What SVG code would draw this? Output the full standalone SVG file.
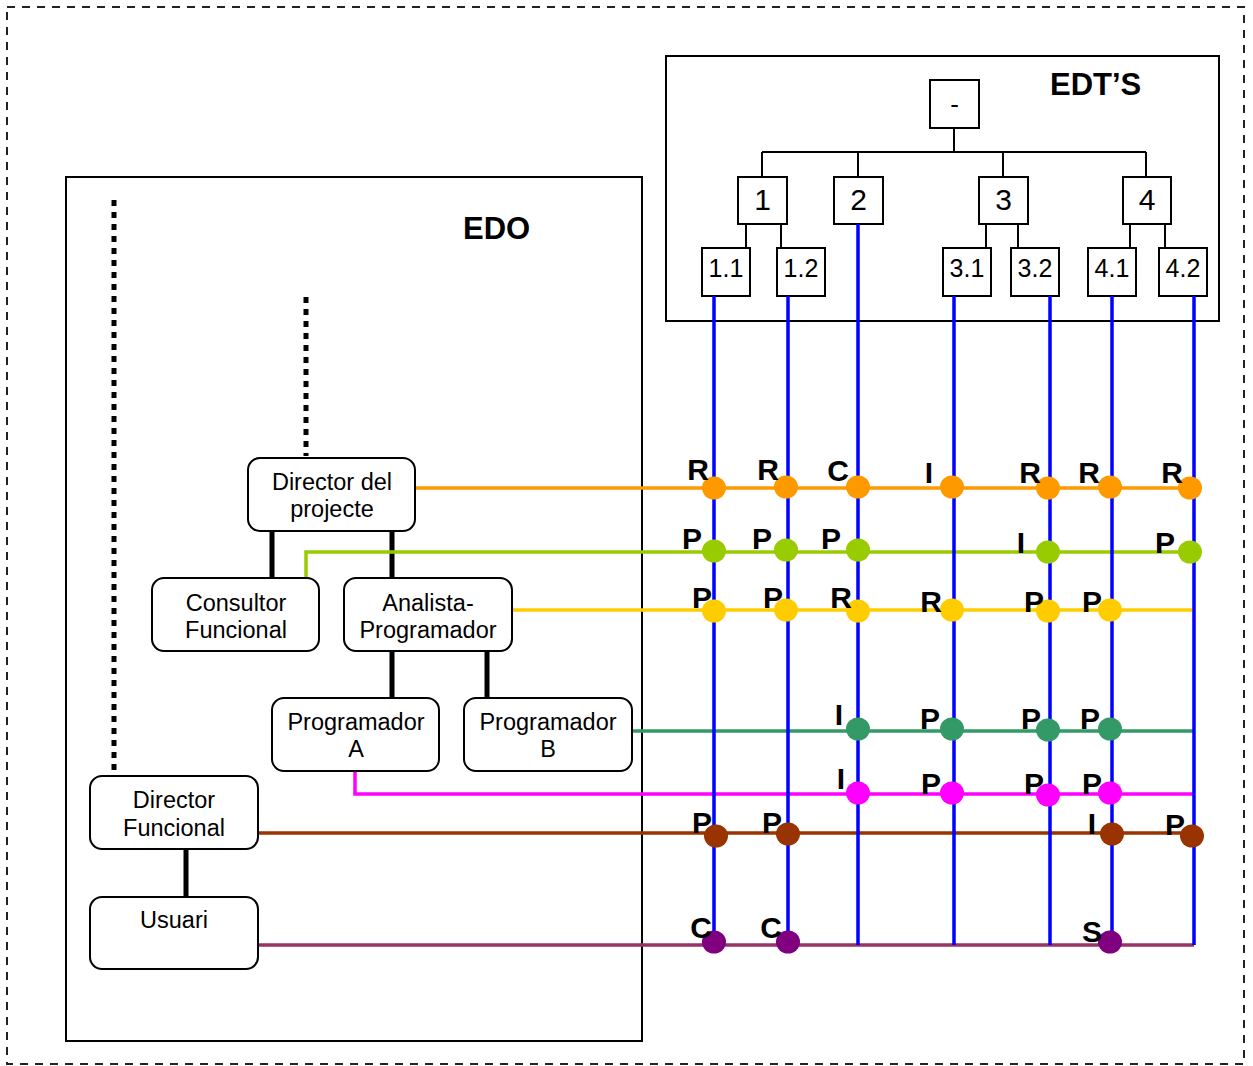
<svg xmlns="http://www.w3.org/2000/svg" width="1253" height="1066" viewBox="0 0 1253 1066">
<style>
.box{fill:#fff;stroke:#000;stroke-width:2}
.node{fill:#fff;stroke:#000;stroke-width:2}
.t{font-family:"Liberation Sans",Arial,sans-serif;fill:#000;text-anchor:middle}
.nt{font-size:23.5px}
.tree{stroke:#000;stroke-width:2;fill:none}
.blue{stroke:#0000FF;stroke-width:3.5;fill:none}
.h{stroke-width:3.5;fill:none}
.thick{stroke:#000;stroke-width:5;fill:none}
.dot{stroke:#000;stroke-width:5;stroke-dasharray:6 6;fill:none}
.lb{font-family:"Liberation Sans",Arial,sans-serif;font-weight:bold;font-size:30px;fill:#000;text-anchor:middle}
.hd{font-family:"Liberation Sans",Arial,sans-serif;font-weight:bold;fill:#000}
</style>
<rect x="0" y="0" width="1253" height="1066" fill="#fff"/>
<rect x="7" y="7" width="1237" height="1057" fill="none" stroke="#222" stroke-width="2" stroke-dasharray="8 7"/>

<g id="EDO">
<rect x="66" y="177" width="576" height="864" fill="none" stroke="#000" stroke-width="2"/>
<text class="hd" x="463" y="239" font-size="31">EDO</text>
</g>

<g id="EDTS">
<rect x="666" y="56" width="553" height="265" fill="none" stroke="#000" stroke-width="2"/>
<text class="hd" x="1050" y="95" font-size="31">EDT’S</text>
</g>

<g id="tree-connectors">
<path class="tree" d="M954,128 V152 M762,152 H1146 M762,152 V177 M858,152 V177 M1003,152 V177 M1146,152 V177"/>
<path class="tree" d="M746,224 V248 M781,224 V248 M986,224 V248 M1018,224 V248 M1130,224 V248 M1165,224 V248"/>
</g>

<g id="wbs-root"><rect class="box" x="930" y="80" width="49" height="48"/><text class="t" x="954.5" y="113" font-size="26">-</text></g>
<g id="wbs-1"><rect class="box" x="738" y="177" width="49" height="47"/><text class="t" x="762.5" y="210" font-size="30">1</text></g>
<g id="wbs-2"><rect class="box" x="834" y="177" width="49" height="47"/><text class="t" x="858.5" y="210" font-size="30">2</text></g>
<g id="wbs-3"><rect class="box" x="979" y="177" width="49" height="47"/><text class="t" x="1003.5" y="210" font-size="30">3</text></g>
<g id="wbs-4"><rect class="box" x="1123" y="177" width="48" height="47"/><text class="t" x="1147" y="210" font-size="30">4</text></g>
<g id="wbs-1-1"><rect class="box" x="702" y="248" width="48" height="48"/><text class="t" x="726" y="277" font-size="25">1.1</text></g>
<g id="wbs-1-2"><rect class="box" x="777" y="248" width="48" height="48"/><text class="t" x="801" y="277" font-size="25">1.2</text></g>
<g id="wbs-3-1"><rect class="box" x="943" y="248" width="48" height="48"/><text class="t" x="967" y="277" font-size="25">3.1</text></g>
<g id="wbs-3-2"><rect class="box" x="1011" y="248" width="48" height="48"/><text class="t" x="1035" y="277" font-size="25">3.2</text></g>
<g id="wbs-4-1"><rect class="box" x="1088" y="248" width="48" height="48"/><text class="t" x="1112" y="277" font-size="25">4.1</text></g>
<g id="wbs-4-2"><rect class="box" x="1159" y="248" width="48" height="48"/><text class="t" x="1183" y="277" font-size="25">4.2</text></g>

<g id="org-connectors">
<path class="dot" d="M114,200 V772"/>
<path class="dot" d="M306,297 V456"/>
<path class="thick" d="M272,531 V578 M392,531 V578 M392,651 V698 M487,651 V698 M186,849 V897"/>
</g>

<g id="matrix-lines">
<path class="h" stroke="#FF9900" d="M415,488 H1194"/>
<path class="h" stroke="#99CC00" d="M306,578 V552 H1192"/>
<path class="h" stroke="#FFCC00" d="M513,610 H1192"/>
<path class="h" stroke="#339966" d="M632,731 H1194"/>
<path class="h" stroke="#FF00FF" d="M355,771 V794 H1194"/>
<path class="h" stroke="#993300" d="M258,833 H1194"/>
<path class="h" stroke="#993366" d="M258,945 H1194"/>
<path class="blue" d="M714,296 V945 M788,296 V945 M858,224 V945 M954,296 V945 M1050,296 V945 M1112,296 V945 M1194,296 V945"/>
</g>

<g id="node-director-projecte"><rect class="node" x="248" y="458" width="167" height="73" rx="12"/><text class="t nt" x="332" y="490">Director del</text><text class="t nt" x="332" y="517">projecte</text></g>
<g id="node-consultor"><rect class="node" x="152" y="578" width="167" height="73" rx="12"/><text class="t nt" x="236" y="611">Consultor</text><text class="t nt" x="236" y="638">Funcional</text></g>
<g id="node-analista"><rect class="node" x="344" y="578" width="168" height="73" rx="12"/><text class="t nt" x="428" y="611">Analista-</text><text class="t nt" x="428" y="638">Programador</text></g>
<g id="node-programador-a"><rect class="node" x="272" y="698" width="167" height="73" rx="12"/><text class="t nt" x="356" y="730">Programador</text><text class="t nt" x="356" y="757">A</text></g>
<g id="node-programador-b"><rect class="node" x="464" y="698" width="168" height="73" rx="12"/><text class="t nt" x="548" y="730">Programador</text><text class="t nt" x="548" y="757">B</text></g>
<g id="node-director-funcional"><rect class="node" x="90" y="776" width="168" height="73" rx="12"/><text class="t nt" x="174" y="808">Director</text><text class="t nt" x="174" y="836">Funcional</text></g>
<g id="node-usuari"><rect class="node" x="90" y="897" width="168" height="72" rx="12"/><text class="t nt" x="174" y="928">Usuari</text></g>

<g id="matrix-dots">
<g fill="#FF9900"><ellipse cx="714" cy="488" rx="12" ry="11.5"/><ellipse cx="786" cy="487" rx="12" ry="11.5"/><ellipse cx="858" cy="487" rx="12" ry="11.5"/><ellipse cx="952" cy="487" rx="12" ry="11.5"/><ellipse cx="1048" cy="488" rx="12" ry="11.5"/><ellipse cx="1110" cy="487" rx="12" ry="11.5"/><ellipse cx="1190" cy="488" rx="12" ry="11.5"/></g>
<g fill="#99CC00"><ellipse cx="714" cy="551" rx="12" ry="11.5"/><ellipse cx="786" cy="550" rx="12" ry="11.5"/><ellipse cx="858" cy="550" rx="12" ry="11.5"/><ellipse cx="1048" cy="552" rx="12" ry="11.5"/><ellipse cx="1190" cy="552" rx="12" ry="11.5"/></g>
<g fill="#FFCC00"><ellipse cx="714" cy="611" rx="12" ry="11.5"/><ellipse cx="786" cy="610" rx="12" ry="11.5"/><ellipse cx="858" cy="611" rx="12" ry="11.5"/><ellipse cx="952" cy="610" rx="12" ry="11.5"/><ellipse cx="1048" cy="611" rx="12" ry="11.5"/><ellipse cx="1110" cy="610" rx="12" ry="11.5"/></g>
<g fill="#339966"><ellipse cx="858" cy="729" rx="12" ry="11.5"/><ellipse cx="952" cy="729" rx="12" ry="11.5"/><ellipse cx="1048" cy="730" rx="12" ry="11.5"/><ellipse cx="1110" cy="729" rx="12" ry="11.5"/></g>
<g fill="#FF00FF"><ellipse cx="858" cy="793" rx="12" ry="11.5"/><ellipse cx="952" cy="793" rx="12" ry="11.5"/><ellipse cx="1048" cy="795" rx="12" ry="11.5"/><ellipse cx="1110" cy="793" rx="12" ry="11.5"/></g>
<g fill="#993300"><ellipse cx="716" cy="836" rx="12" ry="11.5"/><ellipse cx="788" cy="834" rx="12" ry="11.5"/><ellipse cx="1112" cy="834" rx="12" ry="11.5"/><ellipse cx="1192" cy="836" rx="12" ry="11.5"/></g>
<g fill="#800080"><ellipse cx="714" cy="942" rx="12" ry="11.5"/><ellipse cx="788" cy="942" rx="12" ry="11.5"/><ellipse cx="1110" cy="942" rx="12" ry="11.5"/></g>
</g>

<g id="matrix-labels">
<text class="lb" x="698" y="480">R</text><text class="lb" x="768" y="480">R</text><text class="lb" x="838" y="481">C</text><text class="lb" x="929" y="483">I</text><text class="lb" x="1030" y="483">R</text><text class="lb" x="1089" y="483">R</text><text class="lb" x="1172" y="483">R</text>
<text class="lb" x="692" y="549">P</text><text class="lb" x="762" y="549">P</text><text class="lb" x="831" y="549">P</text><text class="lb" x="1021" y="553">I</text><text class="lb" x="1165" y="553">P</text>
<text class="lb" x="702" y="608">P</text><text class="lb" x="773" y="608">P</text><text class="lb" x="841" y="608">R</text><text class="lb" x="931" y="612">R</text><text class="lb" x="1034" y="612">P</text><text class="lb" x="1092" y="612">P</text>
<text class="lb" x="839" y="725">I</text><text class="lb" x="930" y="729">P</text><text class="lb" x="1031" y="729">P</text><text class="lb" x="1090" y="729">P</text>
<text class="lb" x="841" y="789">I</text><text class="lb" x="931" y="794">P</text><text class="lb" x="1034" y="794">P</text><text class="lb" x="1092" y="794">P</text>
<text class="lb" x="702" y="833">P</text><text class="lb" x="772" y="833">P</text><text class="lb" x="1092" y="834">I</text><text class="lb" x="1175" y="835">P</text>
<text class="lb" x="701" y="938">C</text><text class="lb" x="771" y="938">C</text><text class="lb" x="1092" y="942">S</text>
</g>
</svg>
